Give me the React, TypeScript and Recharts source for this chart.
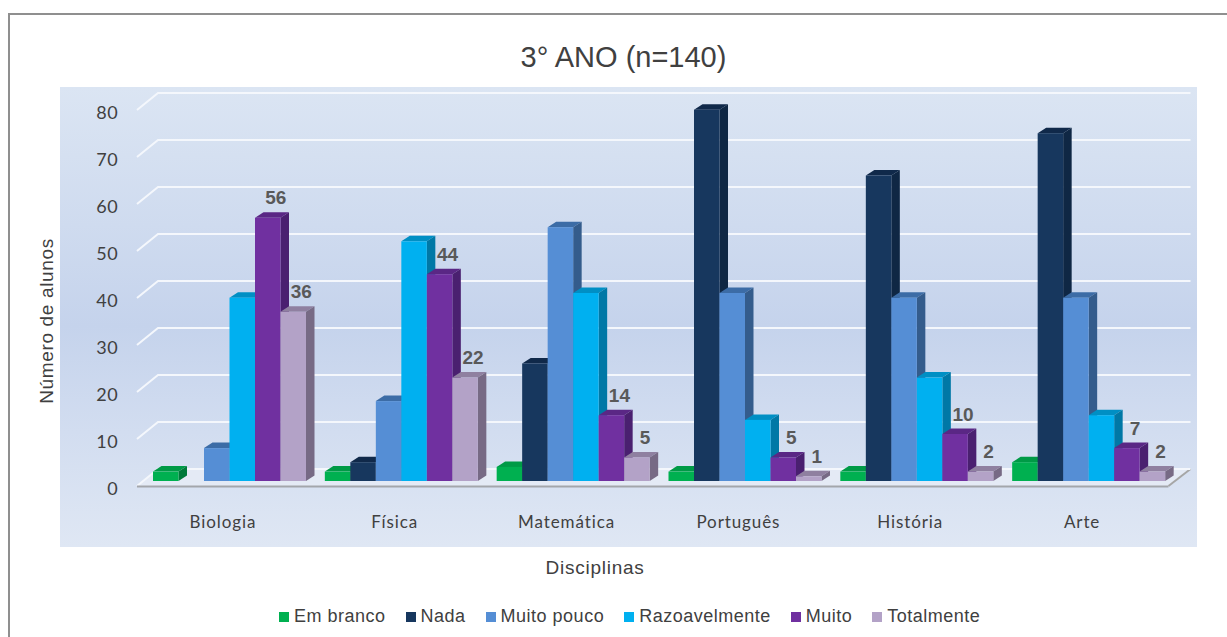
import React from "react";
import { BarChart, Bar, XAxis, YAxis, CartesianGrid, Legend, LabelList, Label } from "recharts";

const categories = ["Biologia", "Física", "Matemática", "Português", "História", "Arte"];
const emBranco = [2, 2, 3, 2, 2, 4];
const nada = [0, 4, 25, 79, 65, 74];
const muitoPouco = [7, 17, 54, 40, 39, 39];
const razoavelmente = [39, 51, 40, 13, 22, 14];
const muito = [56, 44, 14, 5, 10, 7];
const totalmente = [36, 22, 5, 1, 2, 2];
const yTicks = [0, 10, 20, 30, 40, 50, 60, 70, 80];

const data = categories.map((name, i) => ({
  name,
  emBranco: emBranco[i],
  nada: nada[i],
  muitoPouco: muitoPouco[i],
  razoavelmente: razoavelmente[i],
  muito: muito[i],
  totalmente: totalmente[i],
}));

const DX = 8.5;
const DY = 5.5;

const bar3D = (top: string, side: string) => (p: any) => {
  const { x, y, width, height, fill } = p;
  if (!height || height <= 0) return <g />;
  return (
    <g>
      <path d={`M${x},${y} L${x + DX},${y - DY} L${x + width + DX},${y - DY} L${x + width},${y} Z`} fill={top} />
      <path d={`M${x + width},${y} L${x + width + DX},${y - DY} L${x + width + DX},${y + height - DY} L${x + width},${y + height} Z`} fill={side} />
      <rect x={x} y={y} width={width} height={height} fill={fill} />
    </g>
  );
};

const gridLine = (p: any) => {
  const y = p.y1;
  const isFloor = p.y !== undefined && p.height !== undefined && Math.abs(y - (p.y + p.height)) < 0.5;
  const lx = p.x1 - 7;
  const rx = p.x2 + 15.5;
  return (
    <g key={p.key ?? y}>
      {isFloor && (
        <>
          <path d={`M${lx},${y + 5} L${lx + 21},${y - 12} L${rx},${y - 12} L${rx - 22},${y + 5} Z`} fill="#e4eaf5" />
          <path d={`M${rx - 22},${y + 5} L${rx},${y - 12}`} stroke="#a6a6a6" strokeWidth={2} fill="none" />
        </>
      )}
      <path d={`M${lx},${y + 5} L${lx + 21},${y - 12} L${rx},${y - 12}`} stroke="#f4f7fc" strokeWidth={2} fill="none" />
      {isFloor && <path d={`M${lx},${y + 5.5} L${rx - 22},${y + 5.5}`} stroke="#a3a6ab" strokeWidth={2.2} fill="none" />}
    </g>
  );
};

const YTick = (p: any) => (
  <text x={118} y={p.y + 7} textAnchor="end" dominantBaseline="central" fontFamily="Lato" fontSize={18} letterSpacing={0.4} fill="#404040">
    {p.payload.value}
  </text>
);

const XTick = (p: any) => (
  <text x={p.x - 7} y={521} textAnchor="middle" dominantBaseline="central" fontFamily="Lato" fontSize={17} letterSpacing={0.9} fill="#404040">
    {p.payload.value}
  </text>
);

const valueLabel = (p: any) => {
  if (!p.value) return <g />;
  return (
    <text x={p.x + p.width / 2 + 8} y={p.y - 20} textAnchor="middle" dominantBaseline="central" fontFamily="Liberation Sans" fontWeight={700} fontSize={19} fill="#595959">
      {p.value}
    </text>
  );
};

const LegendBox = (p: any) => (
  <div style={{ display: "flex", gap: 20, fontFamily: "Liberation Sans", fontSize: 18, letterSpacing: 0.5, color: "#404040", whiteSpace: "nowrap" }}>
    {(p.payload || []).map((e: any) => (
      <span key={e.value} style={{ display: "flex", alignItems: "center", gap: 5 }}>
        <span style={{ width: 10, height: 10, background: e.color, display: "inline-block" }} />
        {e.value}
      </span>
    ))}
  </div>
);

const series = [
  { key: "emBranco", name: "Em branco", fill: "#00B050", top: "#009A46", side: "#007A3A" },
  { key: "nada", name: "Nada", fill: "#17375E", top: "#10294A", side: "#0F2744" },
  { key: "muitoPouco", name: "Muito pouco", fill: "#558ED5", top: "#3C6CA6", side: "#345C8C" },
  { key: "razoavelmente", name: "Razoavelmente", fill: "#00B0F0", top: "#008FC4", side: "#0078A6" },
  { key: "muito", name: "Muito", fill: "#7030A0", top: "#5A2785", side: "#4A2070" },
  { key: "totalmente", name: "Totalmente", fill: "#B3A2C7", top: "#8F80A0", side: "#776A85" },
];

export default function App() {
  return (
    <div style={{ position: "absolute", left: 0, top: 0, width: 1227, height: 637, overflow: "hidden", background: "#fff" }}>
      <div style={{ position: "absolute", left: 8, top: 13, width: 1219, height: 624, borderLeft: "2px solid #8f8f8f", borderTop: "2px solid #8f8f8f", boxSizing: "border-box" }} />
      <div
        style={{
          position: "absolute",
          left: 60,
          top: 87,
          width: 1137,
          height: 460,
          background: "linear-gradient(180deg, #DBE5F3 0%, #CFDBEF 30%, #C5D3EC 52%, #D2DDF0 75%, #DFE7F4 100%)",
        }}
      />
      <div style={{ position: "absolute", left: 0, width: 1247, top: 40, textAlign: "center", fontFamily: "Liberation Sans", fontSize: 29, color: "#404040", lineHeight: "34px" }}>
        3° ANO (n=140)
      </div>
      <div style={{ position: "absolute", left: 0, top: 0 }}>
        <BarChart width={1227} height={637} data={data} margin={{ left: 104, right: 52, top: 105, bottom: 96 }} barGap={0} barSize={25.5} style={{ background: "transparent" }}>
          <CartesianGrid vertical={false} horizontal={gridLine} />
          <XAxis dataKey="name" axisLine={false} tickLine={false} interval={0} height={30} tick={XTick}>
            <Label content={() => <text x={595} y={567} textAnchor="middle" dominantBaseline="central" fontFamily="Liberation Sans" fontSize={19} letterSpacing={0.75} fill="#404040">Disciplinas</text>} />
          </XAxis>
          <YAxis width={40} domain={[0, 80]} ticks={yTicks} axisLine={false} tickLine={false} tick={YTick} interval={0}>
            <Label content={() => <text transform="translate(46,321) rotate(-90)" textAnchor="middle" dominantBaseline="central" fontFamily="Liberation Sans" fontSize={19} letterSpacing={0.65} fill="#404040">Número de alunos</text>} />
          </YAxis>
          <Legend height={30} itemSorter={null} content={LegendBox} wrapperStyle={{ left: 279, top: 606, width: 760, bottom: "auto" }} />
          {series.map((s) => (
            <Bar key={s.key} dataKey={s.key} name={s.name} fill={s.fill} isAnimationActive={false} shape={bar3D(s.top, s.side)}>
              {(s.key === "muito" || s.key === "totalmente") && <LabelList dataKey={s.key} content={valueLabel} />}
            </Bar>
          ))}
        </BarChart>
      </div>
    </div>
  );
}
